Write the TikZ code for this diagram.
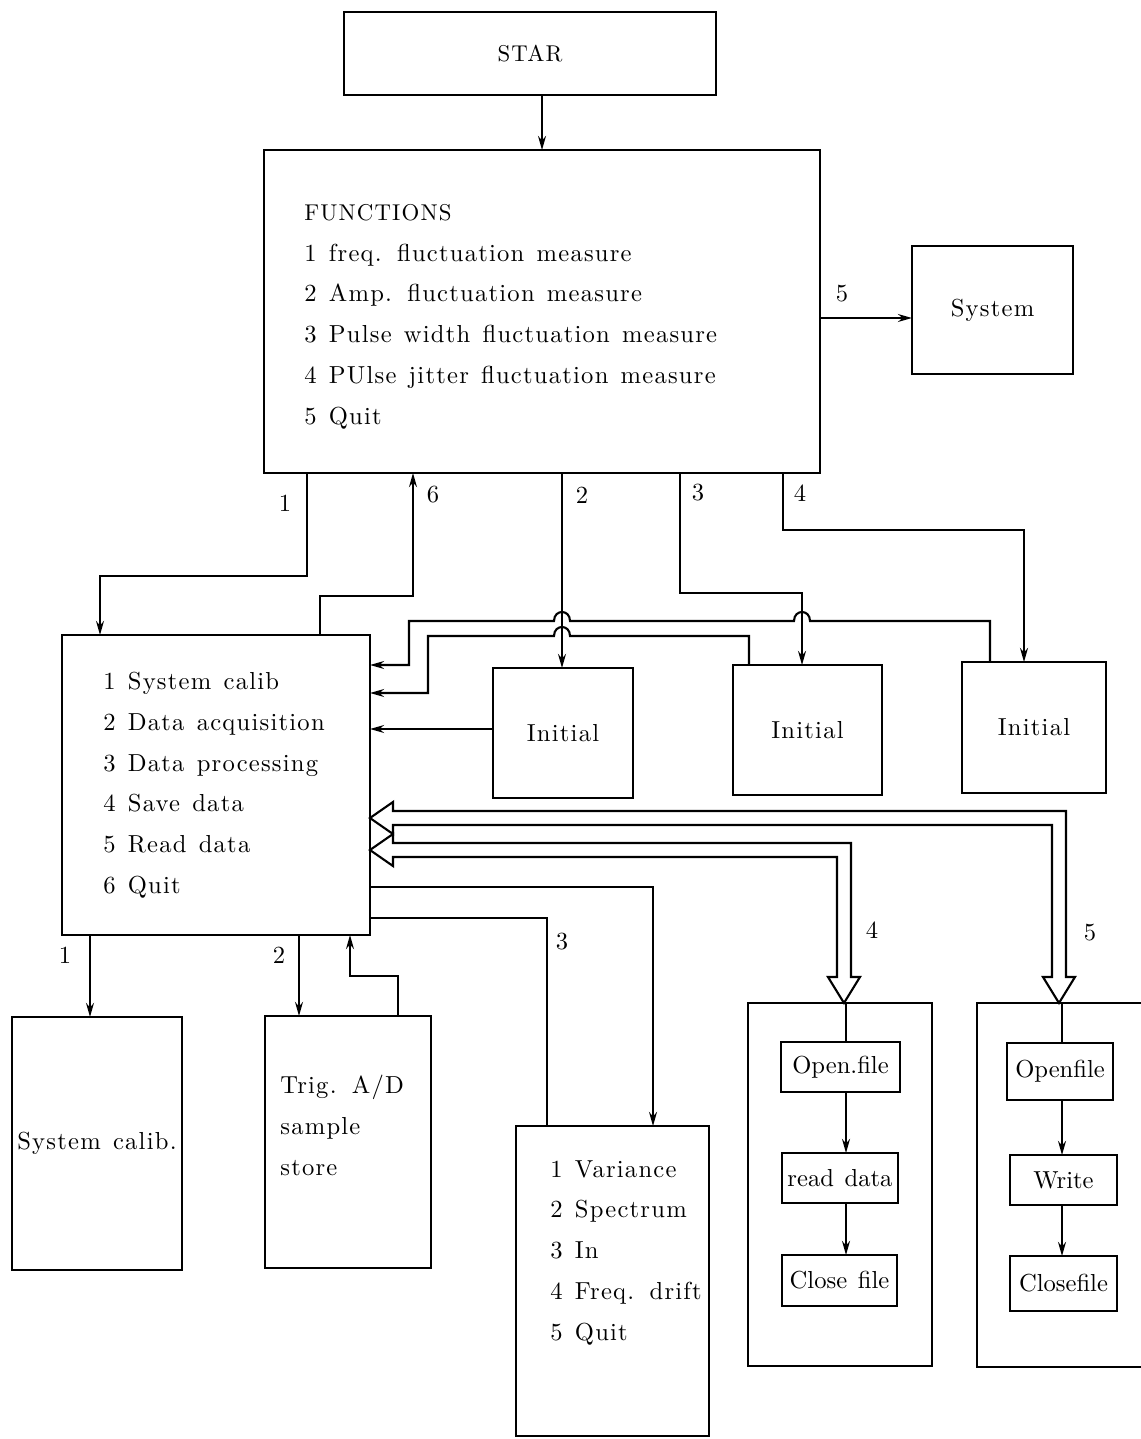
\documentclass[tikz,border=0pt]{standalone}
\usepackage{fontspec}
\setmainfont{lmroman10-regular}[Extension=.otf, LetterSpace=5, WordSpace=1.3]
\usepackage{tikz}
\usetikzlibrary{arrows.meta}

\tikzset{
  blk/.style={draw, line width=1.2pt, inner sep=0pt, outer sep=0pt,
    font=\fontsize{14}{23.2}\selectfont},
  sub/.style={blk, font=\fontsize{14}{16}\selectfont\addfontfeature{LetterSpace=0}},
  txt/.style={inner sep=0pt, align=left, anchor=north west,
    font=\fontsize{14}{23.2}\selectfont},
  lbl/.style={inner sep=0pt, font=\fontsize{14}{16}\selectfont},
  ln/.style={line width=1.2pt},
  arr/.style={line width=1.2pt, -{Stealth[length=8pt,width=4.5pt]}},
  hollow/.style={line width=1.2pt, line join=miter}
}

\begin{document}
\begin{tikzpicture}[x=0.02cm, y=-0.02cm]
    \useasboundingbox (0,0) rectangle (1140,1439);

    % upper part
    \node[blk, minimum width=7.44cm, minimum height=1.66cm, font=\fontsize{13}{16}\selectfont] (star) at (530,53.5) {STAR};
    \node[blk, minimum width=11.12cm, minimum height=6.46cm] (func) at (542,311.5) {};
    \node[txt] (funcTxt) at (304,204) {{\fontsize{13}{16}\selectfont FUNCTIONS}\\
        1 freq. fluctuation measure\\
        2 Amp. fluctuation measure\\
        3 Pulse width fluctuation measure\\
        4 PUlse jitter fluctuation measure\\
        5 Quit};
    \node[blk, minimum width=3.22cm, minimum height=2.56cm] (sys) at (992.5,310) {System};

    \node[blk, minimum width=6.16cm, minimum height=6cm] (menu) at (216,785) {};
    \node[txt] (menuTxt) at (103,672) {1 System calib\\
        2 Data acquisition\\
        3 Data processing\\
        4 Save data\\
        5 Read data\\
        6 Quit};

    \node[blk, minimum width=2.8cm, minimum height=2.6cm] (ini1) at (563,733) {Initial};
    \node[blk, minimum width=2.98cm, minimum height=2.6cm] (ini2) at (807.5,730) {Initial};
    \node[blk, minimum width=2.88cm, minimum height=2.62cm] (ini3) at (1034,727.5) {Initial};

    % lower part
    \node[blk, minimum width=3.4cm, minimum height=5.06cm] (cal) at (97,1143.5) {System calib.};
    \node[blk, minimum width=3.32cm, minimum height=5.04cm] (trig) at (348,1142) {};
    \node[txt] (trigTxt) at (280,1075) {Trig. A/D\\ sample\\ store};
    \node[blk, minimum width=3.86cm, minimum height=6.2cm] (proc) at (612.5,1281) {};
    \node[txt] (procTxt) at (550,1160) {1 Variance\\
        2 Spectrum\\
        3 In\\
        4 Freq. drift\\
        5 Quit};

    \node[blk, minimum width=3.68cm, minimum height=7.26cm] (rdbox) at (840,1184.5) {};
    \node[sub, minimum width=2.38cm, minimum height=1cm] (open4) at (840.5,1067) {Open.file};
    \node[sub, minimum width=2.32cm, minimum height=1cm] (read4) at (840,1178) {read data};
    \node[sub, minimum width=2.3cm, minimum height=1.02cm] (close4) at (839.5,1280.5) {Close file};

    \node[blk, minimum width=3.66cm, minimum height=7.28cm] (wrbox) at (1068.5,1185) {};
    \node[sub, minimum width=2.12cm, minimum height=1.14cm] (open5) at (1060,1071.5) {Openfile};
    \node[sub, minimum width=2.14cm, minimum height=1cm] (write5) at (1063.5,1180) {Write};
    \node[sub, minimum width=2.14cm, minimum height=1.1cm] (close5) at (1063.5,1283.5) {Closefile};

    % connectors from the functions box
    \draw[arr] (star.south -| func.north) -- (func.north);
    \draw[arr] ([yshift=-0.16cm]func.east |- sys.west) -- ([yshift=-0.16cm]sys.west);
    \draw[arr] (307,0 |- func.south) -- (307,576) -| (100,0 |- menu.north);
    \draw[arr] (320,0 |- menu.north) |- (413,596) -- (413,0 |- func.south);
    \draw[arr] (562,0 |- func.south) -- (562,0 |- ini1.north);
    \draw[arr] (680,0 |- func.south) |- (802,593) -- (802,0 |- ini2.north);
    \draw[arr] (783,0 |- func.south) |- (1024,530) -- (1024,0 |- ini3.north);

    % back to the menu, with hops
    \draw[arr] (ini1.west |- 0,729) -- (menu.east |- 0,729);
    \draw[arr] (749,0 |- ini2.north) -- (749,636) -- (570,636)
        .. controls (570,624) and (554,624) .. (554,636) -- (428,636) -- (428,693)
        -- (menu.east |- 0,693);
    \draw[arr] (990,0 |- ini3.north) -- (990,621) -- (810,621)
        .. controls (810,609) and (794,609) .. (794,621) -- (570,621)
        .. controls (570,609) and (554,609) .. (554,621) -- (409,621) -- (409,665)
        -- (menu.east |- 0,665);

    % from the menu downwards
    \draw[arr] (90,0 |- menu.south) -- (90,0 |- cal.north);
    \draw[arr] (299,0 |- menu.south) -- (299,0 |- trig.north);
    \draw[arr] (398,0 |- trig.north) |- (350,976) -- (350,0 |- menu.south);
    \draw[arr] (menu.east |- 0,887) -| (653,0 |- proc.north);
    \draw[ln] (547,0 |- proc.north) |- (menu.east |- 0,918);

    % hollow double arrows
    \draw[hollow] (menu.east |- 0,818) -- ++(23,-16) -- ++(0,9) -- ++(673,0) -- ++(0,166)
        -- ++(9,0) -- ++(-16,26) -- ++(-16,-26) -- ++(9,0) -- ++(0,-152) -- ++(-659,0)
        -- ++(0,9) -- cycle;
    \draw[hollow] (menu.east |- 0,850) -- ++(23,-16) -- ++(0,9) -- ++(458,0) -- ++(0,134)
        -- ++(9,0) -- ++(-16,26) -- ++(-16,-26) -- ++(9,0) -- ++(0,-120) -- ++(-444,0)
        -- ++(0,9) -- cycle;

    % inside the file boxes
    \draw[ln] (846,0 |- rdbox.north) -- (846,0 |- open4.north);
    \draw[arr] (846,0 |- open4.south) -- (846,0 |- read4.north);
    \draw[arr] (846,0 |- read4.south) -- (846,0 |- close4.north);
    \draw[ln] (1062,0 |- wrbox.north) -- (1062,0 |- open5.north);
    \draw[arr] (1062,0 |- open5.south) -- (1062,0 |- write5.north);
    \draw[arr] (1062,0 |- write5.south) -- (1062,0 |- close5.north);

    % numbers
    \node[lbl] (n5s) at (842,294) {5};
    \node[lbl] (n1f) at (285,503) {1};
    \node[lbl] (n6f) at (433,495) {6};
    \node[lbl] (n2f) at (582,495) {2};
    \node[lbl] (n3f) at (698,493) {3};
    \node[lbl] (n4f) at (800,493) {4};
    \node[lbl] (n1m) at (65,955) {1};
    \node[lbl] (n2m) at (279,955) {2};
    \node[lbl] (n3m) at (562,942) {3};
    \node[lbl] (n4m) at (872,930) {4};
    \node[lbl] (n5m) at (1090,933) {5};
\end{tikzpicture}
\end{document}
